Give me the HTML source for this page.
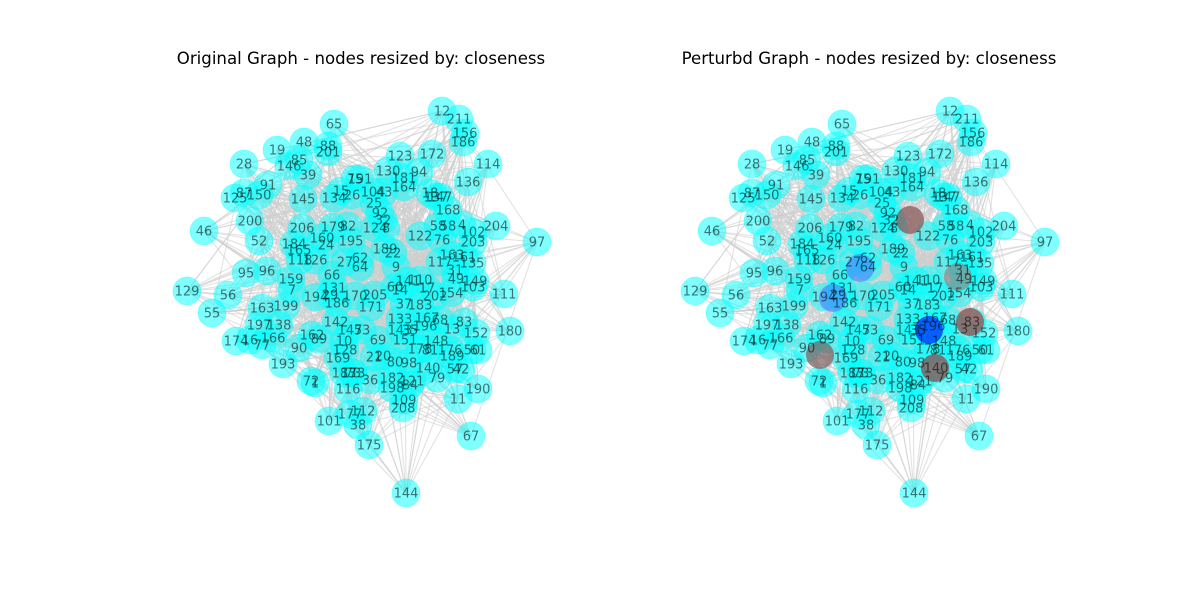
<!DOCTYPE html>
<html><head><meta charset="utf-8"><style>
body{margin:0;background:#fff;width:1200px;height:600px;overflow:hidden}
svg{display:block}
text{font-family:"DejaVu Sans","Liberation Sans",sans-serif}
</style></head><body>
<svg id="chart" width="1200" height="600" viewBox="0 0 1200 600">
<rect width="1200" height="600" fill="#fff"/>
<text x="361" y="64" font-size="16.6" text-anchor="middle" fill="#000">Original Graph - nodes resized by: closeness</text>
<text x="869" y="64" font-size="16.6" text-anchor="middle" fill="#000">Perturbd Graph - nodes resized by: closeness</text>
<g id="left"></g>
<g id="right"></g>
</svg>
<script>
const nodeIds=[65,12,211,156,186,48,88,201,19,85,146,28,39,123,172,114,130,94,181,164,136,91,87,150,125,145,15,134,75,191,104,43,26,25,18,137,147,168,200,52,46,204,97,58,4,102,203,92,32,124,8,206,179,82,160,24,195,184,165,118,126,27,64,62,9,22,189,76,161,135,117,31,49,149,103,154,111,180,95,96,159,7,129,56,55,163,199,197,138,174,16,166,77,193,194,29,186,131,66,142,147,53,10,128,169,173,90,162,89,72,1,116,101,177,112,38,175,144,208,109,198,182,121,84,36,183,73,69,98,80,20,21,151,178,81,140,148,176,189,50,61,13,83,152,79,42,57,190,11,67,205,171,170,141,110,60,14,17,202,37,183,133,167,68,196,143,35,122,58,163];
const nodeX=[334,442,459,465,463,304,328,328,277,299,289,244,308,400,432,488,388,419,404,404,468,268,244,259,235,303,341,334,355,360,373,384,352,374,430,436,440,448,250,259,204,496,537,448,462,473,473,380,383,375,386,302,333,348,322,326,351,294,299,300,315,345,360,360,396,393,385,442,464,472,440,455,456,475,473,451,504,510,246,267,291,292,187,228,212,262,286,259,279,236,250,273,262,283,316,330,337,334,332,336,350,362,344,345,338,353,299,312,319,311,315,348,329,350,363,358,369,406,403,404,392,392,412,410,370,344,353,378,409,395,383,374,405,420,430,428,436,450,452,472,478,452,464,476,437,461,455,478,458,471,375,371,355,408,420,395,400,427,435,404,420,400,427,440,425,400,410,420,438,452];
const nodeY=[124,111,119,133,142,142,146,152,150,160,166,164,175,156,154,164,171,172,178,187,182,185,193,195,198,199,191,198,179,179,192,192,195,203,193,197,197,210,221,241,231,226,242,226,225,232,242,213,220,228,228,228,227,226,238,245,241,244,250,260,260,262,267,258,267,253,249,240,257,263,262,270,279,281,287,293,294,331,273,271,279,290,291,295,313,308,306,325,325,341,340,338,345,364,297,295,303,288,275,322,330,330,341,350,358,373,348,335,339,381,383,389,421,414,411,425,445,493,408,400,388,378,381,385,380,373,373,340,363,362,356,357,340,349,350,368,341,350,356,350,350,329,322,333,378,369,369,389,399,436,295,307,296,281,280,287,290,288,296,304,305,319,318,320,326,330,330,236,226,255];
// perturbed graph highlighted nodes (positions in left-panel coordinates)
const hlX=[402,352,325,421,462,427,312,450];
const hlY=[220,268,298,330,322,368,355,277];
const hlCol=["#8a5a5a","#3f7fff","#4a7aff","#0044ff","#a04848","#8c4c4c","#7a5e5e","#9a7070"];
const hlOp=[0.75,0.6,0.6,0.85,0.75,0.75,0.7,0.55];
const N=nodeIds.length;
const NS="http://www.w3.org/2000/svg";
function mk(tag,attrs,parent){const e=document.createElementNS(NS,tag);for(const k in attrs)e.setAttribute(k,attrs[k]);parent.appendChild(e);return e;}
function draw(gid,dx,highlight){
  const g=document.getElementById(gid);
  const eg=mk('g',{},g);
  
  
  const steps=[7,13,19,31,43,53,71,89];
  for(let i=0;i<N;i++){
    for(const s of steps){
      const j=(i*s+s)%N; if(j===i)continue;
      const l=mk('line',{x1:nodeX[i]+dx,y1:nodeY[i],x2:nodeX[j]+dx,y2:nodeY[j],stroke:'#cfcfcf','stroke-width':1.1,'stroke-opacity':0.6},eg);
      
      
    }
  }
  const ng=mk('g',{},g);
  
  
  for(let i=0;i<N;i++){
    const c=mk('circle',{cx:nodeX[i]+dx,cy:nodeY[i],r:14,fill:'#00ffff','fill-opacity':0.5,stroke:'#00ffff','stroke-opacity':0.3},ng);
    
    
  }
  if(highlight){
    for(let h=0;h<hlX.length;h++){
      const c=mk('circle',{cx:hlX[h]+dx,cy:hlY[h],r:14,fill:hlCol[h],'fill-opacity':hlOp[h]},ng);
      
      
    }
  }
  const tg=mk('g',{},g);
  
  
  for(let i=0;i<N;i++){
    const t=mk('text',{x:nodeX[i]+dx,y:nodeY[i]+4.5,'font-size':13,'text-anchor':'middle',fill:'#000','fill-opacity':0.55},tg);
    t.textContent=nodeIds[i];
    
    
  }
}
draw('left',0,false);
draw('right',508,true);
</script>
</body></html>
